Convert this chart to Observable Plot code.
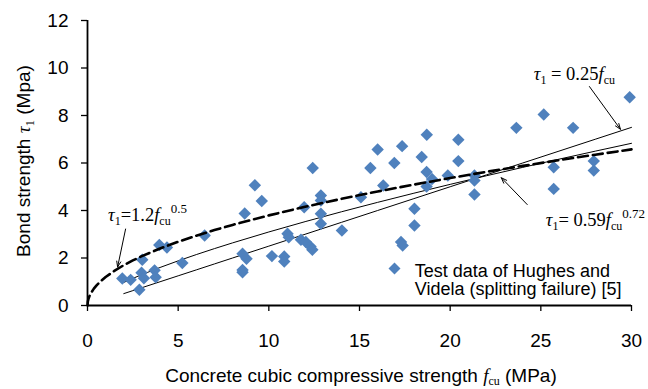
<!DOCTYPE html>
<html><head><meta charset="utf-8">
<script src="https://cdn.jsdelivr.net/npm/d3@7"></script>
<script src="https://cdn.jsdelivr.net/npm/@observablehq/plot@0.6"></script>
<style>body{margin:0;background:#fff} svg{display:block}</style>
</head><body><div id="chart"></div>
<script>
// Test data of Hughes and Videla (splitting failure)
const fcu = [1.92,2.38,2.86,3.02,2.98,3.11,3.70,3.76,3.96,4.38,5.23,6.46,
  8.55,8.55,8.55,8.77,8.67,9.23,9.61,10.17,
  10.85,10.85,11.03,11.10,11.77,12.04,12.30,12.40,11.95,12.42,12.87,12.87,12.87,12.87,14.03,
  15.08,15.60,16.00,16.31,16.92,17.35,18.03,18.03,17.29,17.38,18.43,18.71,18.70,19.00,18.70,19.87,20.45,20.45,
  21.34,21.34,21.34,23.65,25.16,26.78,25.71,25.71,27.92,27.92,29.90];
const tau = [1.14,1.08,0.66,1.93,1.38,1.15,1.48,1.19,2.55,2.44,1.79,2.95,
  1.40,1.50,2.18,1.97,3.87,5.06,4.40,2.08,
  2.06,1.85,3.02,2.87,2.77,2.67,2.48,2.35,4.14,5.79,4.63,4.42,3.86,3.44,3.16,
  4.56,5.79,6.57,5.05,6.00,6.71,4.07,3.37,2.67,2.53,6.25,7.19,5.62,5.33,5.01,5.47,6.98,6.08,
  5.47,5.26,4.67,7.48,8.04,7.48,5.82,4.91,6.08,5.68,8.77];
const xTicks = [0,5,10,15,20,25,30];
const yTicks = [0,2,4,6,8,10,12];
// Design equations tau1 = a * fcu^b
const eqCoef = [0.25, 0.59, 1.2];
const eqExp = [1, 0.72, 0.5];
const eqStart = [2, 2, 0];
const curveX = [0,0.02,0.05,0.1,0.2,0.35,0.5,0.75,1,1.5,2,2.5,3,4,5,6,7,8,10,12,14,16,18,20,22,24,26,28,30];

const pts = fcu.map((x, i) => ({x, y: tau[i]}));
const curves = eqCoef.map((a, k) => curveX.filter(x => x >= eqStart[k]).map(x => ({x, y: a * Math.pow(x, eqExp[k]), k})));

const arrows = [
  {x1: 27.68, y1: 9.22, x2: 29.39, y2: 7.42},
  {x1: 24.25, y1: 4.25, x2: 22.82, y2: 5.38},
  {x1: 2.10, y1: 3.22, x2: 1.66, y2: 1.62}
];

const sans = "Liberation Sans, Arial, Helvetica, sans-serif";
const serif = "Liberation Serif, Times New Roman, serif";

const chart = Plot.plot({
  width: 648, height: 389,
  marginLeft: 87, marginRight: 17, marginTop: 20, marginBottom: 84,
  style: {fontFamily: sans, fontSize: "19px", color: "#000", background: "#fff"},
  x: {domain: [0, 30]},
  y: {domain: [0, 12]},
  marks: [
    Plot.axisX({ticks: xTicks, tickSize: 6, tickPadding: 22, label: null, fontSize: 19, strokeWidth: 1.3}),
    Plot.axisY({ticks: yTicks, tickSize: 6, tickPadding: 13, label: null, fontSize: 19, strokeWidth: 1.3}),
    Plot.line(curves[0], {x: "x", y: "y", stroke: "#000", strokeWidth: 1}),
    Plot.line(curves[1], {x: "x", y: "y", stroke: "#000", strokeWidth: 1}),
    Plot.dot(pts, {x: "x", y: "y", symbol: "diamond2", r: 5.6, fill: "#4F81BD", stroke: "none"}),
    Plot.line(curves[2], {x: "x", y: "y", stroke: "#000", strokeWidth: 2.6, strokeDasharray: "10,5"}),
    Plot.arrow(arrows, {x1: "x1", y1: "y1", x2: "x2", y2: "y2", stroke: "#000", strokeWidth: 1, headLength: 9, headAngle: 40}),
    Plot.ruleX([0], {stroke: "#000", strokeWidth: 1.8}),
    Plot.ruleY([0], {stroke: "#000", strokeWidth: 1.8}),
    Plot.dot([{x: 16.93, y: 1.56}], {x: "x", y: "y", symbol: "diamond2", r: 5.4, fill: "#4F81BD", stroke: "none"}),
    Plot.text(["Test data of Hughes and\nVidela (splitting failure) [5]"], {x: () => 18.05, y: () => 1.72, text: d => d, textAnchor: "start", lineAnchor: "top", lineHeight: 1.0, fontSize: 18, fill: "#000"})
  ]
});
document.getElementById("chart").append(chart);

const sxd = chart.scale("x"), syd = chart.scale("y");
const sx = d3.scaleLinear(sxd.domain, sxd.range);
const sy = d3.scaleLinear(syd.domain, syd.range);
const svg = d3.select(chart);
const g = svg.append("g");

function rich(x, y, parts, size, transform, anchor) {
  const t = g.append("text").attr("x", x).attr("y", y).attr("font-size", size).attr("fill", "#000")
    .attr("text-anchor", anchor || "start");
  if (transform) t.attr("transform", transform);
  let shift = 0;
  parts.forEach(p => {
    const ts = t.append("tspan").text(p.t);
    ts.attr("font-family", p.font || serif);
    if (p.italic) ts.attr("font-style", "italic");
    if (p.size) ts.attr("font-size", p.size);
    const target = p.off || 0;
    if (target !== shift) { ts.attr("dy", target - shift); shift = target; }
  });
}

// equation labels
rich(sx(24.64), sy(9.47), [
  {t: "τ", italic: true}, {t: "1", size: 12, off: 4}, {t: " = 0.25"}, {t: "f", italic: true}, {t: "cu", size: 12, off: 4}
], 18.5);
rich(sx(25.3), sy(3.33), [
  {t: "τ", italic: true}, {t: "1", size: 12, off: 4}, {t: "= 0.59"}, {t: "f", italic: true}, {t: "cu", size: 12, off: 4}, {t: "0.72", size: 13, off: -8}
], 18.5);
rich(sx(1.16), sy(3.54), [
  {t: "τ", italic: true}, {t: "1", size: 12, off: 4}, {t: "=1.2"}, {t: "f", italic: true}, {t: "cu", size: 12, off: 4}, {t: "0.5", size: 13, off: -8}
], 18.5);

// axis titles
rich(361, 382, [
  {t: "Concrete cubic compressive strength ", font: sans}, {t: "f", italic: true}, {t: "cu", size: 12, off: 3}, {t: " (MPa)", font: sans, off: 0}
], 19, null, "middle");
rich(0, 0, [
  {t: "Bond strength ", font: sans}, {t: "τ", italic: true}, {t: "1", size: 13, off: 4}, {t: " (Mpa)", font: sans, off: 0}
], 19, "translate(30,161) rotate(-90)", "middle");
</script>
</body></html>
